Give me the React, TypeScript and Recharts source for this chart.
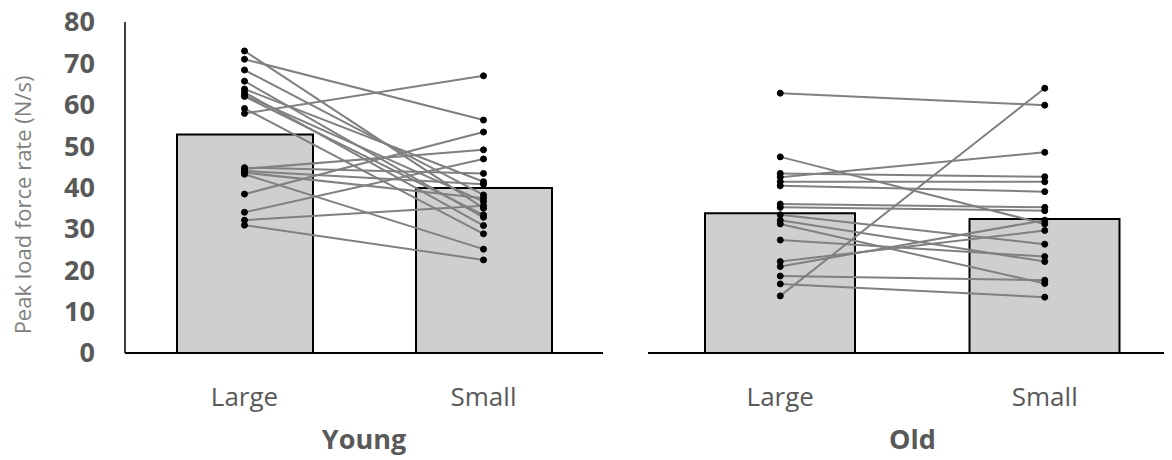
import React from 'react';
import { ComposedChart, Bar, Line, XAxis, YAxis } from 'recharts';

const categories = ['Large', 'Small'];
const yTicks = [0, 10, 20, 30, 40, 50, 60, 70, 80];

const youngMeans = [52.8, 39.9];
const youngLarge = [73.0, 71.0, 68.4, 65.7, 63.8, 63.0, 62.3, 59.1, 57.9, 62.0, 44.8, 44.5, 44.0, 43.6, 43.2, 38.4, 34.0, 32.1, 30.9];
const youngSmall = [35.0, 56.3, 38.2, 32.8, 41.4, 30.8, 36.6, 28.8, 67.0, 33.4, 43.4, 49.1, 40.8, 37.4, 25.1, 53.4, 46.9, 35.6, 22.5];

const oldMeans = [33.8, 32.4];
const oldLarge = [62.8, 47.4, 43.4, 42.5, 41.4, 40.4, 36.0, 35.2, 33.4, 32.1, 31.2, 27.3, 22.1, 20.9, 18.6, 16.7, 13.8];
const oldSmall = [59.9, 31.2, 42.6, 48.5, 41.4, 39.0, 35.2, 34.4, 26.3, 22.1, 16.8, 23.3, 29.6, 32.1, 17.6, 13.5, 64.0];

function buildData(means: number[], large: number[], small: number[]) {
  return categories.map((cat, ci) => {
    const row: Record<string, any> = { cat, mean: means[ci] };
    const src = ci === 0 ? large : small;
    src.forEach((v, i) => {
      row['s' + i] = v;
    });
    return row;
  });
}

const youngData = buildData(youngMeans, youngLarge, youngSmall);
const oldData = buildData(oldMeans, oldLarge, oldSmall);

const FONT = '"Open Sans", sans-serif';
const CHART_H = 460;
const PLOT_BOTTOM = 353;

const XTick = (props: any) => {
  const { x, payload } = props;
  return (
    <text x={x} y={397} dy="0.35em" textAnchor="middle" fill="#595959" fontSize={26} fontFamily={FONT}>
      {payload.value}
    </text>
  );
};

const YTick = (props: any) => {
  const { y, payload } = props;
  return (
    <text x={87} y={y} dy="0.35em" textAnchor="end" fill="#595959" fontSize={27} fontWeight={700} fontFamily={FONT}>
      {payload.value}
    </text>
  );
};

function groupLabel(text: string) {
  return {
    content: (p: any) => {
      const vb = p.viewBox || {};
      const cx = (vb.x ?? 0) + (vb.width ?? 0) / 2;
      return (
        <text x={cx} y={440} dy="0.35em" textAnchor="middle" fill="#595959" fontSize={27} fontWeight={700} fontFamily={FONT}>
          {text}
        </text>
      );
    },
  };
}

function Panel(props: {
  data: any[];
  n: number;
  width: number;
  barSize: number;
  showY: boolean;
  group: string;
  marginRight: number;
}) {
  const { data, n, width, barSize, showY, group, marginRight } = props;
  const lines = [];
  for (let i = 0; i < n; i++) {
    lines.push(
      <Line
        key={'s' + i}
        dataKey={'s' + i}
        stroke="#808080"
        strokeWidth={2}
        dot={{ r: 3, fill: '#000', stroke: '#000', strokeWidth: 1 }}
        activeDot={false}
        isAnimationActive={false}
      />
    );
  }
  return (
    <ComposedChart
      width={width}
      height={CHART_H}
      data={data}
      margin={{ top: 22, right: marginRight, bottom: CHART_H - PLOT_BOTTOM - 100, left: 0 }}
      style={{ overflow: 'visible' }}
    >
      <XAxis
        dataKey="cat"
        height={100}
        axisLine={{ stroke: '#000', strokeWidth: 2 }}
        tickLine={false}
        tick={<XTick />}
        interval={0}
        label={groupLabel(group)}
      />
      <YAxis
        domain={[0, 80]}
        ticks={yTicks}
        hide={!showY}
        width={showY ? 117 : 0}
        axisLine={{ stroke: '#000', strokeWidth: 1.5 }}
        tickLine={false}
        tick={<YTick />}
        interval={0}
        label={
          showY
            ? {
                content: () => (
                  <text
                    x={15}
                    y={205}
                    transform="rotate(-90, 15, 205)"
                    textAnchor="middle"
                    dy="0.35em"
                    fill="#808080"
                    fontSize={22}
                    fontFamily={FONT}
                  >
                    Peak load force rate (N/s)
                  </text>
                ),
              }
            : undefined
        }
      />
      <Bar dataKey="mean" barSize={barSize} fill="#d0cece" stroke="#000" strokeWidth={2} isAnimationActive={false} />
      {lines}
    </ComposedChart>
  );
}

export default function App() {
  return (
    <div style={{ position: 'relative', width: 1164, height: CHART_H, marginTop: -8, overflow: 'hidden', fontFamily: FONT }}>
      <div style={{ position: 'absolute', left: 0, top: 0 }}>
        <Panel data={youngData} n={youngLarge.length} width={610} barSize={136} showY={true} group="Young" marginRight={15} />
      </div>
      <div style={{ position: 'absolute', left: 640, top: 0 }}>
        <Panel data={oldData} n={oldLarge.length} width={529} barSize={150} showY={false} group="Old" marginRight={0} />
      </div>
    </div>
  );
}
